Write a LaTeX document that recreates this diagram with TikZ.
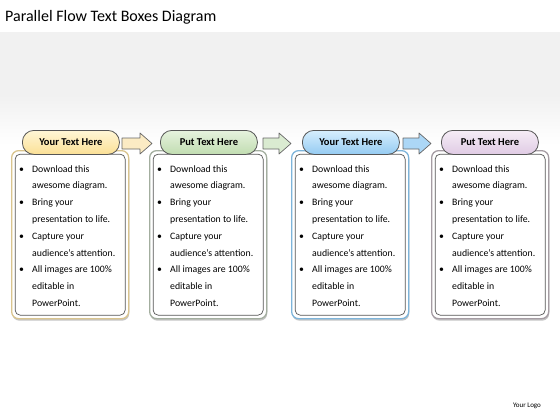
\documentclass[tikz,border=0pt]{standalone}
\usepackage{fontspec}
\setmainfont{Carlito}
\usetikzlibrary{shadows}
\definecolor{bandgray}{HTML}{F1F1F1}
\definecolor{edgegray}{HTML}{555555}
\definecolor{yTop}{HTML}{FFF6D6}\definecolor{yBot}{HTML}{FBE096}
\definecolor{gTop}{HTML}{E6F2DE}\definecolor{gBot}{HTML}{C1DDB1}
\definecolor{bTop}{HTML}{D6EEFD}\definecolor{bBot}{HTML}{95CBF2}
\definecolor{pTop}{HTML}{F5EDF6}\definecolor{pBot}{HTML}{E0CBE4}
\definecolor{yEdge}{HTML}{D9C48E}\definecolor{gEdge}{HTML}{A3AE9F}
\definecolor{bEdge}{HTML}{7DB4DA}\definecolor{pEdge}{HTML}{A59CA3}
\definecolor{yArr}{HTML}{FBEBC4}\definecolor{gArr}{HTML}{DAEBD1}\definecolor{bArr}{HTML}{ACD7F6}
\newcommand\bitem[2]{\makebox[13pt][l]{\textbullet}#1\\\hspace*{13pt}#2}
\newcommand\boxtext{\bitem{Download this}{awesome diagram.}\\
\bitem{Bring your}{presentation to life.}\\
\bitem{Capture your}{audience’s attention.}\\
\bitem{All images are 100\%}{editable in}\\\hspace*{13pt}PowerPoint.}
\tikzset{
  outerbox/.style={draw=#1, line width=1.3pt, fill=white, rounded corners=7pt,
     minimum width=117pt, minimum height=168pt, anchor=north west, inner sep=0pt,
     drop shadow={shadow xshift=0.6pt, shadow yshift=-2pt, opacity=0.45, fill=gray}},
  innerbox/.style={draw=edgegray, line width=0.7pt, rounded corners=5pt,
     minimum width=110pt, minimum height=161pt, inner sep=0pt},
  pill/.style n args={2}{draw=edgegray, line width=0.8pt, rounded corners=11.5pt,
     top color=#1, bottom color=#2, minimum width=97pt, minimum height=24pt,
     anchor=north west, inner sep=0pt, font=\bfseries\fontsize{10.5}{12}\selectfont},
  bodytext/.style={anchor=north west, inner sep=0pt, align=left,
     font=\fontsize{9.8}{16.8}\selectfont},
  blockarrow/.style={draw=gray!80!black, line width=0.7pt, fill=#1, line join=round}
}
\begin{document}
\begin{tikzpicture}[x=1pt,y=-1pt]
\useasboundingbox (0,0) rectangle (560,420);
\fill[white] (0,0) rectangle (560,420);
\fill[bandgray] (0,32) rectangle (560,95);
\shade[top color=bandgray, bottom color=white] (0,95) rectangle (560,145);
\node[anchor=west, inner sep=0pt, font=\fontsize{16}{19}\selectfont] (title) at (5,17) {Parallel Flow Text Boxes Diagram};
% boxes
\foreach \i/\x/\e in {1/11/yEdge,2/149/gEdge,3/291/bEdge,4/431/pEdge}{
  \node[outerbox=\e] (box\i) at (\x,150) {};
  \node[innerbox] (inner\i) at (box\i.center) {};
  \node[bodytext] (txt\i) at (\x+8,165) {\boxtext};
}
% headers
\node[pill={yTop}{yBot}] (h1) at (22,130) {Your Text Here};
\node[pill={gTop}{gBot}] (h2) at (160,130) {Put Text Here};
\node[pill={bTop}{bBot}] (h3) at (302,130) {Your Text Here};
\node[pill={pTop}{pBot}] (h4) at (441,130) {Put Text Here};
% arrows
\foreach \a/\b/\c in {122/152/yArr,263/291/gArr,403/431/bArr}{
  \draw[blockarrow=\c] (\a,138) -- (\b-12,138) -- (\b-12,133) -- (\b,143.5)
     -- (\b-12,154) -- (\b-12,149) -- (\a,149) -- cycle;
}
\node[anchor=center, inner sep=0pt, font=\fontsize{7}{8}\selectfont] (logo) at (527,406) {Your Logo};
\end{tikzpicture}
\end{document}
